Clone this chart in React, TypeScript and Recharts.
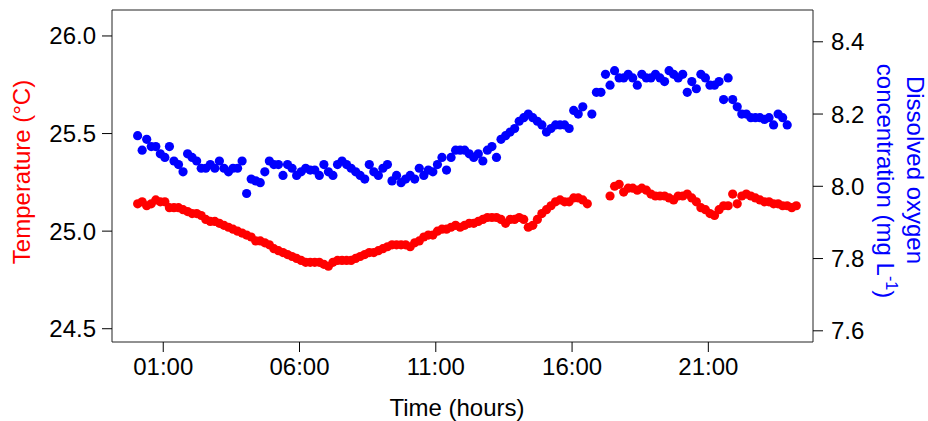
import { ScatterChart, Scatter, XAxis, YAxis, ReferenceArea, Label } from "recharts";

// logger samples every 10 minutes, first reading just after midnight
const START_HOUR = 0.06;
const STEP_HOURS = 1 / 6;

const temperature: (number | null)[] = [
  25.14, 25.15, 25.13, 25.14, 25.16, 25.15, 25.15, 25.12, 25.12, 25.12,
  25.11, 25.10, 25.09, 25.09, 25.08, 25.06, 25.05, 25.05, 25.04, 25.03,
  25.02, 25.01, 25.00, 24.99, 24.98, 24.97, 24.95, 24.95, 24.94, 24.93,
  24.91, 24.90, 24.89, 24.88, 24.87, 24.86, 24.85, 24.84, 24.84, 24.84,
  24.84, 24.83, 24.82, 24.84, 24.85, 24.85, 24.85, 24.85, 24.86, 24.87,
  24.88, 24.89, 24.89, 24.90, 24.91, 24.92, 24.93, 24.93, 24.93, 24.93,
  24.92, 24.94, 24.95, 24.97, 24.98, 24.98, 25.00, 25.01, 25.01, 25.02,
  25.03, 25.02, 25.03, 25.04, 25.04, 25.05, 25.06, 25.07, 25.07, 25.07,
  25.06, 25.04, 25.06, 25.06, 25.07, 25.06, 25.02, 25.03, 25.06, 25.09,
  25.11, 25.13, 25.15, 25.16, 25.15, 25.15, 25.17, 25.17, 25.16, 25.14,
  null, null, null, null, 25.18, 25.23, 25.24, 25.20, 25.22, 25.22,
  25.21, 25.22, 25.21, 25.19, 25.18, 25.18, 25.18, 25.17, 25.16, 25.18,
  25.18, 25.19, 25.17, 25.15, 25.12, 25.11, 25.09, 25.08, 25.11, 25.13,
  25.13, 25.19, 25.14, 25.18, 25.19, 25.18, 25.17, 25.16, 25.15, 25.15,
  25.14, 25.14, 25.13, 25.13, 25.12, 25.13,
];

const oxygen: (number | null)[] = [
  8.14, 8.10, 8.13, 8.11, 8.11, 8.09, 8.08, 8.11, 8.07, 8.06,
  8.04, 8.09, 8.08, 8.07, 8.05, 8.05, 8.06, 8.05, 8.07, 8.05,
  8.04, 8.05, 8.05, 8.07, 7.98, 8.02, 8.015, 8.01, 8.04, 8.07,
  8.06, 8.06, 8.03, 8.06, 8.05, 8.03, 8.04, 8.05, 8.045, 8.045,
  8.03, 8.06, 8.04, 8.03, 8.06, 8.07, 8.06, 8.05, 8.04, 8.03,
  8.02, 8.06, 8.04, 8.03, 8.05, 8.06, 8.015, 8.03, 8.01, 8.02,
  8.03, 8.02, 8.05, 8.03, 8.045, 8.04, 8.06, 8.08, 8.045, 8.08,
  8.10, 8.10, 8.10, 8.09, 8.08, 8.09, 8.07, 8.10, 8.11, 8.08,
  8.13, 8.14, 8.15, 8.16, 8.18, 8.19, 8.20, 8.19, 8.18, 8.17,
  8.15, 8.16, 8.17, 8.17, 8.17, 8.16, 8.21, 8.20, 8.22, null,
  8.20, 8.26, 8.26, 8.31, 8.28, 8.32, 8.30, 8.30, 8.31, 8.30,
  8.28, 8.31, 8.30, 8.30, 8.31, 8.30, 8.29, 8.32, 8.31, 8.30,
  8.31, 8.26, 8.29, 8.27, 8.31, 8.30, 8.28, 8.28, 8.29, 8.24,
  8.30, 8.24, 8.22, 8.20, 8.20, 8.19, 8.19, 8.19, 8.185, 8.19,
  8.17, 8.20, 8.19, 8.17, null, null,
];

const timeTicks = [1, 6, 11, 16, 21];
const timeTickLabels = ["01:00", "06:00", "11:00", "16:00", "21:00"];
const tempTicks = [24.5, 25.0, 25.5, 26.0];
const oxygenTicks = [7.6, 7.8, 8.0, 8.2, 8.4];

const X_DOMAIN: [number, number] = [-0.88, 24.84];
const TEMP_DOMAIN: [number, number] = [24.432, 26.133];
const OXY_DOMAIN: [number, number] = [7.569, 8.488];

const FONT = "'Liberation Sans', Arial, Helvetica, sans-serif";
const RED = "#ff0000";
const BLUE = "#0000ff";

const tempData = temperature
  .map((v, i) => ({ t: START_HOUR + i * STEP_HOURS, temp: v }))
  .filter((d) => d.temp !== null);
const oxyData = oxygen
  .map((v, i) => ({ t: START_HOUR + i * STEP_HOURS, oxy: v }))
  .filter((d) => d.oxy !== null);

const dot = (color: string) => (props: any) =>
  <circle cx={props.cx} cy={props.cy} r={4.6} fill={color} />;

const tickStyle = { fill: "#000", fontSize: 24, fontFamily: FONT };

export default function App() {
  // pinned to the page corner so the 8px body margin can't push it past the window
  return (
    <div style={{ position: "absolute", left: 0, top: 0, width: 928, height: 421, overflow: "hidden" }}>
      <ScatterChart width={928} height={421} margin={{ top: 10, right: 0, bottom: 0, left: 0 }}>
        <XAxis
          type="number"
          dataKey="t"
          domain={X_DOMAIN}
          allowDataOverflow
          ticks={timeTicks}
          interval={0}
          tickFormatter={(v) => timeTickLabels[timeTicks.indexOf(v)]}
          height={79}
          axisLine={false}
          tickLine={{ stroke: "#000" }}
          tickSize={10}
          tickMargin={6}
          tick={tickStyle}
        >
          <Label
            content={() => (
              <text x={457} y={416} textAnchor="middle" fontSize={24} fontFamily={FONT} fill="#000">
                Time (hours)
              </text>
            )}
          />
        </XAxis>
        <YAxis
          yAxisId="temp"
          type="number"
          dataKey="temp"
          orientation="left"
          width={112}
          domain={TEMP_DOMAIN}
          allowDataOverflow
          ticks={tempTicks}
          interval={0}
          tickFormatter={(v) => v.toFixed(1)}
          axisLine={false}
          tickLine={{ stroke: "#000" }}
          tickSize={10}
          tickMargin={6}
          tick={tickStyle}
        >
          <Label
            content={() => (
              <text
                x={30}
                y={172}
                transform="rotate(-90 30 172)"
                textAnchor="middle"
                fontSize={24}
                fontFamily={FONT}
                fill={RED}
              >
                Temperature (°C)
              </text>
            )}
          />
        </YAxis>
        <YAxis
          yAxisId="oxy"
          type="number"
          dataKey="oxy"
          orientation="right"
          width={115}
          domain={OXY_DOMAIN}
          allowDataOverflow
          ticks={oxygenTicks}
          interval={0}
          tickFormatter={(v) => v.toFixed(1)}
          axisLine={false}
          tickLine={{ stroke: "#000" }}
          tickSize={10}
          tickMargin={8}
          tick={tickStyle}
        >
          <Label
            content={() => (
              <g fontSize={24} fontFamily={FONT} fill={BLUE}>
                <text x={907} y={170} transform="rotate(90 907 170)" textAnchor="middle">
                  Dissolved oxygen
                </text>
                <text x={877} y={181} transform="rotate(90 877 181)" textAnchor="middle">
                  concentration (mg L<tspan dy={-9} fontSize={16}>-1</tspan>
                  <tspan dy={9}>)</tspan>
                </text>
              </g>
            )}
          />
        </YAxis>
        <ReferenceArea
          yAxisId="temp"
          x1={X_DOMAIN[0]}
          x2={X_DOMAIN[1]}
          y1={TEMP_DOMAIN[0]}
          y2={TEMP_DOMAIN[1]}
          fill="none"
          fillOpacity={0}
          stroke="#222"
          strokeWidth={1}
          ifOverflow="visible"
        />
        <Scatter yAxisId="temp" data={tempData} fill={RED} shape={dot(RED)} isAnimationActive={false} />
        <Scatter yAxisId="oxy" data={oxyData} fill={BLUE} shape={dot(BLUE)} isAnimationActive={false} />
      </ScatterChart>
    </div>
  );
}
